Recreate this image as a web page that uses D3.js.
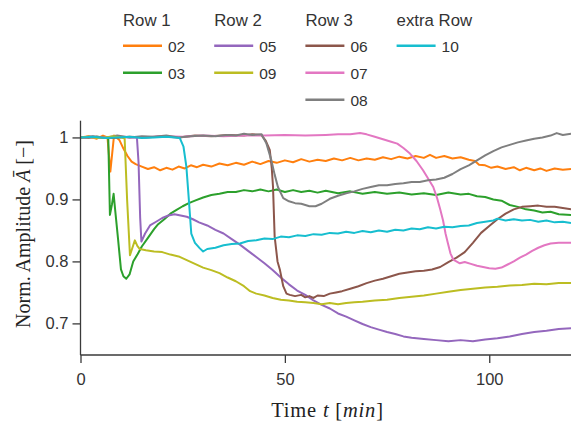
<!DOCTYPE html>
<html><head><meta charset="utf-8">
<script src="https://cdn.jsdelivr.net/npm/d3@7"></script>
<style>html,body{margin:0;padding:0;background:#fff;}svg{display:block;}</style>
</head><body>
<svg id="chart" width="571" height="429"></svg>
<script>
const xTicks = [0, 50, 100];
const yTicks = [0.7, 0.8, 0.9, 1];
const seriesIds = ["02","03","05","06","07","08","09","10"];
const seriesColors = {"02":"#ff7f0e","03":"#2ca02c","05":"#9467bd","06":"#8c564b","07":"#e377c2","08":"#7f7f7f","09":"#bcbd22","10":"#17becf"};
const groupTitles = ["Row 1","Row 2","Row 3","extra Row"];
const groupMembers = [["02","03"],["05","09"],["06","07","08"],["10"]];

const s02 = [[0,1.0],[2,1.002],[4,0.998],[5.5,1.003],[6.6,1.0],[7.3,0.945],[8.2,1.003],[9.5,0.996],[10.5,0.982],[11.5,0.97],[12.5,0.961],[13.5,0.957],[15,0.953],[16.5,0.949],[18,0.952],[19.5,0.947],[21,0.951],[22.5,0.948],[24,0.953],[25.5,0.95],[27,0.955],[28.5,0.952],[30,0.956],[32,0.953],[34,0.958],[36,0.955],[38,0.959],[40,0.956],[42,0.961],[44,0.957],[46,0.962],[48,0.959],[50,0.963],[52,0.96],[54,0.965],[56,0.961],[58,0.964],[60,0.962],[62,0.966],[64,0.963],[66,0.967],[68,0.963],[70,0.966],[72,0.964],[74,0.968],[76,0.965],[78,0.969],[80,0.966],[82,0.97],[84,0.967],[85.5,0.972],[87,0.967],[89,0.97],[91,0.966],[93,0.968],[95,0.964],[96.5,0.962],[97.5,0.956],[99,0.955],[100.5,0.951],[102,0.953],[104,0.949],[106,0.952],[107.5,0.947],[109,0.951],[111,0.947],[112.5,0.95],[114,0.946],[116,0.95],[118,0.948],[120,0.949]];
const s03 = [[0,1.0],[2,0.999],[4,1.001],[6,1.0],[6.8,0.998],[7.2,0.875],[7.7,0.892],[8.1,0.909],[8.6,0.875],[9.2,0.835],[9.9,0.787],[10.5,0.776],[11.2,0.772],[12,0.779],[12.9,0.8],[14,0.812],[15,0.824],[16.5,0.838],[18,0.852],[19,0.86],[20.5,0.868],[22,0.877],[23.5,0.883],[25,0.889],[26.5,0.894],[28,0.898],[30,0.903],[32,0.907],[34,0.909],[36,0.912],[38,0.912],[40,0.915],[42,0.913],[44,0.916],[46,0.913],[48,0.916],[50,0.912],[52,0.915],[54,0.912],[56,0.914],[58,0.911],[60,0.914],[63,0.91],[66,0.913],[69,0.909],[72,0.912],[75,0.909],[78,0.911],[81,0.908],[84,0.91],[87,0.907],[90,0.911],[93,0.908],[95,0.909],[97,0.905],[99,0.904],[101,0.9],[103,0.898],[105,0.891],[107,0.888],[109,0.884],[111,0.882],[113,0.879],[115,0.88],[117,0.876],[120,0.875]];
const s05 = [[0,1.0],[3,1.001],[6,0.999],[9,1.001],[12,1.0],[13.8,1.0],[14.2,0.96],[14.6,0.87],[14.9,0.832],[15.8,0.845],[17,0.858],[18.5,0.864],[20,0.87],[21.5,0.874],[23,0.876],[24.5,0.874],[26,0.872],[27.5,0.868],[29,0.863],[31,0.858],[33,0.851],[35,0.845],[37,0.836],[39,0.827],[41,0.817],[43,0.807],[45,0.797],[47,0.786],[49,0.774],[51,0.763],[53,0.753],[55,0.746],[57,0.737],[59,0.73],[61,0.724],[63,0.716],[65,0.711],[67,0.705],[69,0.699],[71,0.694],[73,0.69],[75,0.686],[77,0.683],[79,0.679],[81,0.677],[84,0.675],[87,0.673],[90,0.671],[93,0.673],[96,0.671],[99,0.674],[102,0.676],[105,0.679],[108,0.683],[111,0.686],[114,0.688],[117,0.691],[120,0.692]];
const s06 = [[0,1.0],[4,1.001],[8,0.999],[12,1.001],[16,1.0],[20,1.002],[24,1.0],[28,1.003],[32,1.002],[36,1.004],[40,1.003],[42,1.005],[44.2,1.004],[45.3,0.995],[46.3,0.98],[46.8,0.95],[47.1,0.92],[47.5,0.84],[48.2,0.8],[48.8,0.786],[49.6,0.76],[50.4,0.748],[51.2,0.746],[52.5,0.744],[54,0.746],[55,0.742],[56,0.744],[57,0.741],[58,0.745],[59.5,0.744],[61,0.748],[62.5,0.75],[64,0.752],[66,0.756],[68,0.76],[70,0.765],[72,0.769],[74,0.772],[76,0.776],[78,0.78],[80,0.782],[82,0.784],[84,0.785],[86,0.787],[88,0.791],[90,0.799],[92,0.806],[94,0.815],[96,0.83],[98,0.846],[100,0.857],[102,0.868],[104,0.877],[106,0.884],[108,0.888],[110,0.889],[112,0.89],[114,0.888],[116,0.888],[118,0.886],[120,0.884]];
const s07 = [[0,1.0],[5,1.0],[10,1.001],[15,1.0],[20,1.002],[25,1.001],[30,1.003],[35,1.002],[40,1.003],[45,1.003],[50,1.004],[55,1.003],[60,1.004],[63,1.005],[66,1.005],[68.4,1.007],[70,1.005],[72,1.001],[74,0.997],[76,0.993],[77.5,0.99],[79,0.983],[80.6,0.974],[82.2,0.962],[83.8,0.947],[85,0.934],[86.3,0.92],[87.2,0.903],[88,0.884],[88.7,0.866],[89.3,0.845],[89.9,0.829],[90.5,0.813],[91.2,0.803],[92.8,0.797],[94,0.799],[95.5,0.796],[97,0.793],[98.5,0.791],[100,0.789],[101.5,0.788],[103,0.79],[104.5,0.795],[106,0.8],[107.5,0.806],[109,0.811],[110.5,0.817],[112,0.822],[113.5,0.826],[115,0.829],[117,0.83],[120,0.83]];
const s08 = [[0,1.0],[3,1.002],[6,0.999],[9,1.003],[12,1.0],[15,1.002],[18,1.001],[21,1.003],[24,1.0],[27,1.002],[30,1.003],[33,1.002],[36,1.004],[38,1.003],[40,1.006],[42,1.004],[44.3,1.005],[45.5,0.99],[46.7,0.963],[47.5,0.94],[48.3,0.92],[49.6,0.902],[51,0.897],[52.5,0.894],[54,0.893],[56,0.889],[57.5,0.889],[59,0.893],[61,0.901],[63,0.906],[65,0.91],[67,0.913],[69,0.917],[71,0.92],[73,0.923],[75,0.923],[77,0.925],[79,0.926],[81,0.928],[83,0.928],[85,0.931],[87,0.932],[89,0.935],[91,0.941],[93,0.949],[95,0.955],[97,0.963],[99,0.971],[101,0.978],[103,0.984],[105,0.988],[107,0.992],[109,0.995],[111,0.998],[113,1.0],[115,1.003],[116.5,1.007],[118,1.004],[120,1.006]];
const s09 = [[0,1.0],[2,1.001],[4,0.999],[6,1.0],[8,1.002],[10,1.0],[10.8,0.998],[11.4,0.9],[12.1,0.81],[12.7,0.822],[13.3,0.834],[13.9,0.825],[14.5,0.82],[16,0.818],[18,0.816],[20,0.815],[22,0.811],[24,0.808],[26,0.802],[28,0.796],[30,0.79],[32,0.786],[34,0.781],[36,0.774],[38,0.768],[40,0.76],[41.5,0.752],[43,0.748],[45,0.745],[47,0.741],[49,0.738],[51,0.737],[53,0.735],[55,0.734],[57,0.733],[59,0.731],[61,0.733],[63,0.731],[65,0.733],[67,0.734],[69,0.735],[72,0.737],[75,0.738],[78,0.741],[81,0.743],[84,0.745],[87,0.748],[90,0.751],[93,0.754],[96,0.756],[99,0.758],[102,0.759],[105,0.761],[108,0.762],[111,0.764],[114,0.763],[117,0.765],[120,0.765]];
const s10 = [[0,1.0],[3,1.001],[6,0.999],[9,1.0],[12,1.001],[15,0.999],[18,1.0],[21,1.001],[24.3,0.999],[25.2,0.985],[25.9,0.953],[26.5,0.9],[27.1,0.845],[28,0.83],[29.2,0.821],[30,0.816],[31,0.82],[33,0.822],[35,0.826],[37,0.828],[39,0.829],[41,0.833],[43,0.834],[45,0.837],[47,0.836],[49,0.84],[51,0.839],[53,0.842],[55,0.841],[57,0.844],[59,0.843],[61,0.846],[63,0.845],[65,0.848],[67,0.846],[69,0.849],[71,0.847],[73,0.85],[75,0.848],[77,0.851],[79,0.85],[81,0.853],[83,0.852],[85,0.855],[87,0.853],[89,0.856],[91,0.855],[93,0.857],[95,0.858],[97,0.862],[99,0.864],[101,0.866],[102,0.869],[104,0.866],[106,0.868],[108,0.866],[110,0.867],[112,0.864],[114,0.866],[116,0.863],[118,0.864],[120,0.862]];
const seriesData = {"02":s02,"03":s03,"05":s05,"06":s06,"07":s07,"08":s08,"09":s09,"10":s10};

const svg = d3.select("#chart");
const x = d3.scaleLinear().domain([0, 120]).range([80.5, 571]);
const y = d3.scaleLinear().domain([0.649, 1.027]).range([355, 120.7]);
const axisColor = "#3a3a3a";
const sans = "'Liberation Sans', Arial, sans-serif";
const serif = "'Liberation Serif', 'DejaVu Serif', serif";

// lines
const line = d3.line().x(d => x(d[0])).y(d => y(d[1]));
const plot = svg.append("g");
seriesIds.forEach(id => {
  plot.append("path").datum(seriesData[id])
    .attr("fill", "none").attr("stroke", seriesColors[id])
    .attr("stroke-width", 2).attr("stroke-linejoin", "round")
    .attr("d", line);
});

// axes
const xAxis = svg.append("g").attr("transform", `translate(0,${y.range()[0]})`)
  .call(d3.axisBottom(x).tickValues(xTicks).tickSize(8).tickPadding(10).tickFormat(d3.format("d")));
const yAxis = svg.append("g").attr("transform", `translate(${x.range()[0]},0)`)
  .call(d3.axisLeft(y).tickValues(yTicks).tickSize(8).tickPadding(4).tickFormat(d => d === 1 ? "1" : d3.format(".1f")(d)));
[xAxis, yAxis].forEach(a => {
  a.select(".domain").attr("stroke", axisColor).attr("stroke-width", 1.3);
  a.selectAll(".tick line").attr("stroke", axisColor).attr("stroke-width", 1.3);
  a.selectAll(".tick text").attr("fill", "#333").attr("font-family", sans).attr("font-size", 16.5);
});
xAxis.select(".domain").attr("d", `M${x.range()[0]},0H${x.range()[1]}`);
yAxis.select(".domain").attr("d", `M0,${y.range()[0]}V${y.range()[1]}`);

// axis labels
const xl = svg.append("text").attr("x", 327.5).attr("y", 416.5).attr("text-anchor", "middle")
  .attr("font-family", serif).attr("font-size", 20.5).attr("letter-spacing", 0.8).attr("fill", "#222");
xl.append("tspan").text("Time ");
xl.append("tspan").attr("font-style", "italic").text("t");
xl.append("tspan").text(" [");
xl.append("tspan").attr("font-style", "italic").text("min");
xl.append("tspan").text("]");

const yl = svg.append("text").attr("transform", "translate(30,234) rotate(-90)").attr("text-anchor", "middle")
  .attr("font-family", serif).attr("font-size", 20).attr("fill", "#222");
yl.append("tspan").text("Norm. Amplitude ");
yl.append("tspan").attr("font-style", "italic").text("\u0100");
yl.append("tspan").text(" [\u2212]");

// legend
const lg = svg.append("g").attr("font-family", sans);
groupTitles.forEach((t, gi) => {
  const gx = 123 + gi * 91.2;
  lg.append("text").attr("x", gx).attr("y", 26).attr("font-size", 16.8).attr("fill", "#333").text(t);
  groupMembers[gi].forEach((id, k) => {
    const ly = 45.7 + k * 27;
    lg.append("line").attr("x1", gx).attr("x2", gx + 39).attr("y1", ly).attr("y2", ly)
      .attr("stroke", seriesColors[id]).attr("stroke-width", 2.5);
    lg.append("text").attr("x", gx + 45).attr("y", ly + 6.3).attr("font-size", 15.5).attr("fill", "#333").text(id);
  });
});
</script>
</body></html>
